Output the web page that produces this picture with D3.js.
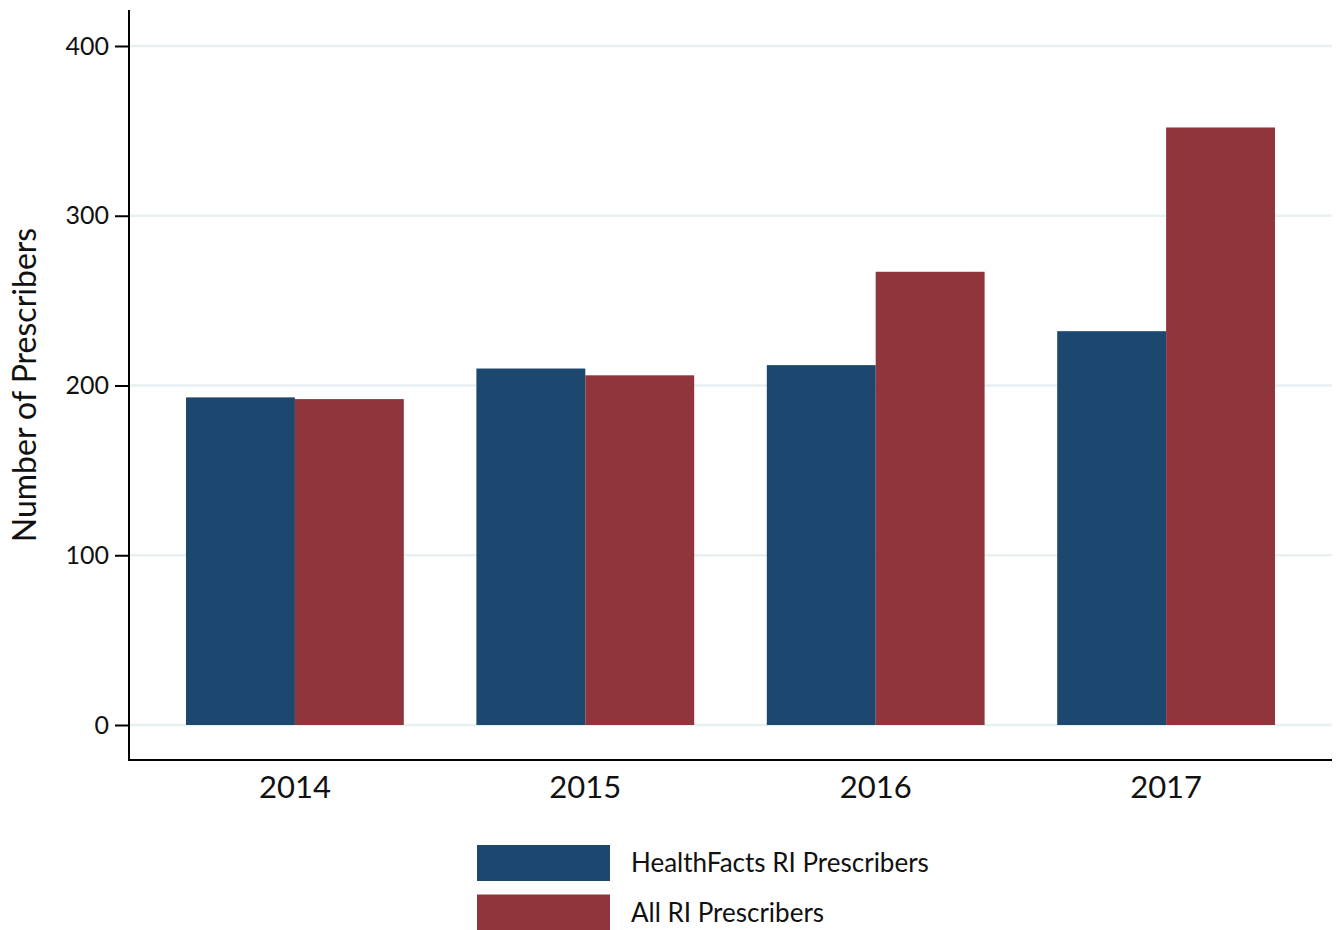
<!DOCTYPE html>
<html><head><meta charset="utf-8">
<script src="https://cdn.jsdelivr.net/npm/d3@7"></script>
<style>body{margin:0;background:#fff;} text{font-family:Lato,"Open Sans",sans-serif;fill:#111;}</style>
</head><body><svg id="c" width="1338" height="930"></svg>
<script>
const years = ["2014","2015","2016","2017"];
const seriesNames = ["HealthFacts RI Prescribers","All RI Prescribers"];
const healthFacts = [193,210,212,232];
const allRI = [192,206,267,352];
const yTicks = [0,100,200,300,400];
const colors = ["#1c476f","#90353b"];

(function(){
const svg = d3.select("#c");
const pLeft=129, pRight=1332, pTop=10, pBottom=760;
const y = d3.scaleLinear().domain([0,400]).range([725,46]);
const x0 = d3.scaleBand().domain(years).range([186,1275]).paddingInner(0.25).paddingOuter(0);
const x1 = d3.scaleBand().domain([0,1]).range([0,x0.bandwidth()]);

// gridlines
svg.append("g").selectAll("line").data(yTicks).join("line")
 .attr("x1",pLeft).attr("x2",pRight).attr("y1",d=>y(d)).attr("y2",d=>y(d))
 .attr("stroke","#e8f1f2").attr("stroke-width",2.5);

const data = years.map((yr,i)=>({yr, vals:[healthFacts[i],allRI[i]]}));
const g = svg.append("g").selectAll("g").data(data).join("g")
 .attr("transform",d=>`translate(${x0(d.yr)},0)`);
g.selectAll("rect").data(d=>d.vals.map((v,k)=>({v,k}))).join("rect")
 .attr("x",d=>x1(d.k)).attr("width",x1.bandwidth())
 .attr("y",d=>y(d.v)).attr("height",d=>y(0)-y(d.v))
 .attr("fill",d=>colors[d.k]);

// y axis
const ya = svg.append("g").attr("transform",`translate(${pLeft},0)`)
 .call(d3.axisLeft(y).tickValues(yTicks).tickSize(14).tickPadding(6));
ya.select(".domain").remove();
ya.selectAll(".tick line").attr("stroke","#000").attr("stroke-width",2);
ya.selectAll(".tick text").style("font-size","25px").attr("fill","#111").style("font-family","Lato");
svg.append("line").attr("x1",pLeft).attr("x2",pLeft).attr("y1",pTop).attr("y2",pBottom+1).attr("stroke","#000").attr("stroke-width",2);

// x axis
const xa = svg.append("g").attr("transform",`translate(0,${pBottom})`)
 .call(d3.axisBottom(x0).tickSize(0).tickPadding(16));
xa.select(".domain").remove();
xa.selectAll(".tick text").style("font-size","31px").attr("fill","#111").style("font-family","Lato");
svg.append("line").attr("x1",pLeft-1).attr("x2",pRight).attr("y1",pBottom).attr("y2",pBottom).attr("stroke","#000").attr("stroke-width",2);

// y title
svg.append("text").attr("transform","translate(36,385) rotate(-90)")
 .attr("text-anchor","middle").style("font-size","32px").text("Number of Prescribers");

// legend
const lg = svg.append("g").selectAll("g").data(seriesNames).join("g")
 .attr("transform",(d,i)=>`translate(477,${845+i*49.5})`);
lg.append("rect").attr("width",133).attr("height",36).attr("fill",(d,i)=>colors[i]);
lg.append("text").attr("x",154).attr("y",18).attr("dy","0.35em").style("font-size","26px").text(d=>d);
})();
</script></body></html>
